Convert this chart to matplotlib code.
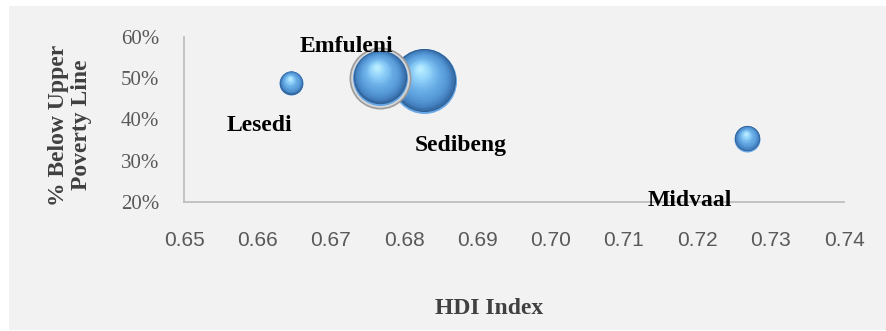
import numpy as np
import matplotlib.pyplot as plt
from matplotlib.colors import LinearSegmentedColormap
from matplotlib.transforms import offset_copy
from matplotlib.patches import Rectangle

municipality = ['Lesedi', 'Emfuleni', 'Sedibeng', 'Midvaal']
hdi = [0.6646, 0.6767, 0.6827, 0.7268]
below_upper_poverty = [0.4885, 0.5011, 0.4928, 0.3535]
bubble_size = [123, 645, 900, 144]

x_ticks = [0.65, 0.66, 0.67, 0.68, 0.69, 0.70, 0.71, 0.72, 0.73, 0.74]
y_ticks = [0.2, 0.3, 0.4, 0.5, 0.6]

# data label offsets from bubble centre, in points
label_offset = {
    'Lesedi': (-22.5, -34.3),
    'Emfuleni': (-24.1, 18.6),
    'Sedibeng': (26.3, -50.0),
    'Midvaal': (-41.4, -48.5),
}

DPI = 100
fig = plt.figure(figsize=(8.86, 3.31), dpi=DPI)
fig.patch.set_facecolor('white')
fig.patches.append(Rectangle((9 / 886, 1 - 330 / 331), 877 / 886, 324 / 331,
                             transform=fig.transFigure, facecolor='#f2f2f2',
                             edgecolor='none', zorder=-10))

ax = fig.add_axes([184 / 886, 1 - 202 / 331, 660 / 886, 165 / 331])
ax.set_facecolor('none')
ax.set_xlim(0.65, 0.74)
ax.set_ylim(0.2, 0.6)

for side in ['top', 'right']:
    ax.spines[side].set_visible(False)
for side in ['left', 'bottom']:
    ax.spines[side].set_color('#bfbfbf')
    ax.spines[side].set_linewidth(1.3)

ax.set_xticks(x_ticks)
ax.set_xticklabels([f'{v:.2f}' for v in x_ticks], fontfamily='Liberation Sans',
                   fontsize=15, color='#595959')
ax.set_yticks(y_ticks)
ax.set_yticklabels([f'{v:.0%}' for v in y_ticks], fontfamily='Liberation Serif',
                   fontsize=15, color='#595959')
ax.tick_params(axis='x', length=0, pad=21)
ax.tick_params(axis='y', length=0, pad=18)

sphere_cmap = LinearSegmentedColormap.from_list(
    'sphere', ['#2d5e94', '#4785c4', '#5a9ddb', '#6cb0e8', '#8ed0fa', '#b8ecff'])

max_radius = 32.5  # pixels, for the biggest bubble


def dots_to_area(r):
    return (2 * r * 72 / DPI) ** 2


def draw_sphere(x, y, r, z, ring=False):
    if ring:
        ax.scatter([x], [y], s=dots_to_area(r + 3.5), color='#9c9c9c', zorder=z, lw=0)
        ax.scatter([x], [y], s=dots_to_area(r + 1.8), color='#d6d6d6', zorder=z, lw=0)
    # light rim along the bottom
    ax.scatter([x], [y], s=dots_to_area(r), color='#68a8e6', zorder=z, lw=0)
    n = 40
    hx, hy = -0.12 * r, 0.36 * r
    for k in range(n):
        t = k / (n - 1)
        rr = r * (0.97 - 0.9 * t)
        tr = offset_copy(ax.transData, fig=fig, x=hx * t, y=0.03 * r + hy * t, units='dots')
        ax.scatter([x], [y], s=dots_to_area(rr), color=sphere_cmap(t ** 0.8),
                   transform=tr, zorder=z, lw=0, clip_on=False)


order = np.argsort(bubble_size)[::-1]
for i, idx in enumerate(order):
    r = max_radius * np.sqrt(bubble_size[idx] / max(bubble_size))
    draw_sphere(hdi[idx], below_upper_poverty[idx], r, 3 + i,
                ring=municipality[idx] == 'Emfuleni')

for name, x, y in zip(municipality, hdi, below_upper_poverty):
    ax.annotate(name, (x, y), xytext=label_offset[name], textcoords='offset points',
                ha='center', va='baseline', fontfamily='Liberation Serif',
                fontweight='bold', fontsize=17, color='black', zorder=10,
                annotation_clip=False)

fig.text(489 / 886, 1 - 309 / 331, 'HDI Index', ha='center', va='center',
         fontfamily='Liberation Serif', fontweight='bold', fontsize=17, color='#404040')
fig.text(70 / 886, 1 - 125 / 331, '% Below Upper\nPoverty Line', rotation=90,
         ha='center', va='center', multialignment='center', linespacing=1.15,
         fontfamily='Liberation Serif', fontweight='bold', fontsize=17, color='#404040')

fig.savefig('out.png', dpi=DPI)
